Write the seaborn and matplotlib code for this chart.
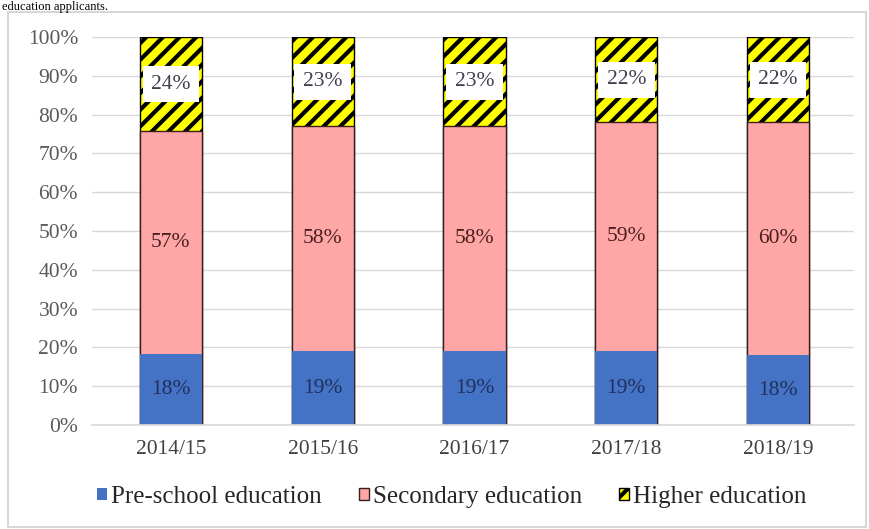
import matplotlib
matplotlib.use('Agg')
import matplotlib.pyplot as plt
import seaborn as sns
import pandas as pd
from matplotlib.patches import Patch, Rectangle
from matplotlib.font_manager import FontProperties

years = ['2014/15', '2015/16', '2016/17', '2017/18', '2018/19']
preschool = [18, 19, 19, 19, 18]
secondary = [57, 58, 58, 59, 60]
higher = [24, 23, 23, 22, 22]
series_names = ['Pre-school education', 'Secondary education', 'Higher education']
ytick_vals = [0, 10, 20, 30, 40, 50, 60, 70, 80, 90, 100]

sns.set_theme(style='white')
plt.rcParams['font.family'] = ['Liberation Serif', 'DejaVu Serif']
plt.rcParams['hatch.linewidth'] = 3.0

SERIF = 'Liberation Serif'

df = pd.DataFrame({'year': years, 'pre': preschool, 'sec': secondary, 'hi': higher})
tot = df['pre'] + df['sec'] + df['hi']
df['c1'] = 100 * df['pre'] / tot
df['c2'] = 100 * (df['pre'] + df['sec']) / tot
df['c3'] = 100 * (df['pre'] + df['sec'] + df['hi']) / tot

fig = plt.figure(figsize=(8.69, 5.29), dpi=100)
ax = fig.add_axes([92 / 869, 1 - 425 / 529, (854 - 92) / 869, (425 - 37) / 529])

BW = 0.41
sns.barplot(data=df, x='year', y='c3', color='#FFFF00', edgecolor='black', linewidth=1.0,
            width=BW, saturation=1, errorbar=None, ax=ax)
for p in ax.patches:
    p.set_hatch('//')
sns.barplot(data=df, x='year', y='c2', color='#FFA6A6', edgecolor='#3a1f1f', linewidth=1.0,
            width=BW, saturation=1, errorbar=None, ax=ax)
sns.barplot(data=df, x='year', y='c1', color='#4472C4', linewidth=0,
            width=BW, saturation=1, errorbar=None, ax=ax)

# data labels
for i in range(len(years)):
    ax.text(i, df['c1'][i] / 2, f"{preschool[i]}%", ha='center', va='center',
            fontsize=15.5, color='#1F2F5A', family=SERIF)
    ax.text(i, (df['c1'][i] + df['c2'][i]) / 2, f"{secondary[i]}%", ha='center', va='center',
            fontsize=15.5, color='#4a1f1f', family=SERIF)
    ax.text(i, (df['c2'][i] + df['c3'][i]) / 2, f"{higher[i]}%", ha='center', va='center',
            fontsize=15.5, color='#404050', family=SERIF,
            bbox=dict(boxstyle='square,pad=0.4', facecolor='white', edgecolor='none'))

ax.set_ylim(0, 100)
ax.set_xlim(-0.52, 4.5)
ax.set_yticks(ytick_vals)
ax.set_yticklabels([f"{v}%" for v in ytick_vals], family=SERIF)
ax.set_xticks(range(len(years)))
ax.set_xticklabels(years, family=SERIF)
ax.set_xlabel('')
ax.set_ylabel('')
ax.yaxis.grid(True, color='#d9d9d9', linewidth=1)
ax.set_axisbelow(True)
for s in ['left', 'right', 'top']:
    ax.spines[s].set_visible(False)
ax.spines['bottom'].set_color('#d9d9d9')
ax.tick_params(axis='y', length=0, labelsize=15.5, labelcolor='#595959', pad=10)
ax.tick_params(axis='x', length=0, labelsize=15.5, labelcolor='#404040', pad=11)

handles = [
    Patch(facecolor='#4472C4', edgecolor='none'),
    Patch(facecolor='#FFA6A6', edgecolor='#3a1f1f', linewidth=1.0),
    Patch(facecolor='#FFFF00', edgecolor='black', hatch='//', linewidth=1.0),
]
leg_font = FontProperties(family=SERIF, size=18)
fig.legend(handles, series_names, loc='center', bbox_to_anchor=(0.52, 1 - 497 / 529),
           ncol=3, frameon=False, prop=leg_font,
           handlelength=0.4, handleheight=0.4,
           handletextpad=0.15, columnspacing=1.5, labelcolor='#262626')

# chart frame
fig.patches.append(Rectangle((8 / 869, 1 - 527 / 529), (866 - 8) / 869, (527 - 12) / 529,
                             transform=fig.transFigure, facecolor='none',
                             edgecolor='#d0d0d0', linewidth=1.2))

fig.text(2 / 869, 1 - 1 / 529, 'education applicants.', ha='left', va='top',
         fontsize=9, color='black', family=SERIF)

fig.savefig('out.png', dpi=100)
